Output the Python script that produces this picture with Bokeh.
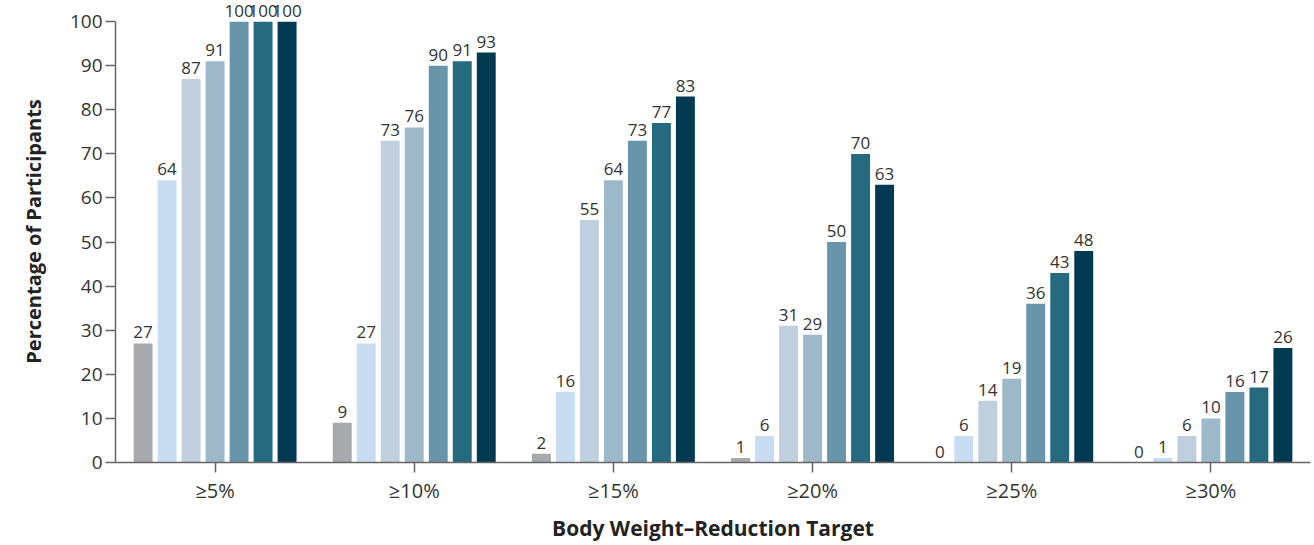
from bokeh.plotting import figure
from bokeh.models import ColumnDataSource, FactorRange, Range1d, FixedTicker
from bokeh.transform import dodge
from bokeh.embed import file_html
from bokeh.resources import INLINE
from bokeh.core.properties import value

targets = ["≥5%", "≥10%", "≥15%", "≥20%", "≥25%", "≥30%"]
s1 = [27, 9, 2, 1, 0, 0]
s2 = [64, 27, 16, 6, 6, 1]
s3 = [87, 73, 55, 31, 14, 6]
s4 = [91, 76, 64, 29, 19, 10]
s5 = [100, 90, 73, 50, 36, 16]
s6 = [100, 91, 77, 70, 43, 17]
s7 = [100, 93, 83, 63, 48, 26]
series = [s1, s2, s3, s4, s5, s6, s7]
colors = ["#a7a9ac", "#c8ddf1", "#c0cfdd", "#9cb8c9", "#6995aa", "#266a80", "#023a52"]
y_ticks = [0, 10, 20, 30, 40, 50, 60, 70, 80, 90, 100]

FONT = "Open Sans"
W, H = 1314, 545

p = figure(x_range=FactorRange(*targets), y_range=Range1d(0, 104.8),
           width=W, height=H, output_backend="svg", toolbar_location=None,
           min_border_left=115, min_border_right=4, min_border_top=0, min_border_bottom=83)
p.outline_line_color = None
p.xgrid.grid_line_color = None
p.ygrid.grid_line_color = None
p.background_fill_color = "white"

pitch = 0.1205
bw = 0.095
for i, (vals, c) in enumerate(zip(series, colors)):
    off = (i - 3) * pitch
    src = ColumnDataSource(dict(cat=targets, val=vals, lab=[str(v) for v in vals]))
    p.vbar(x=dodge("cat", off, range=p.x_range), top="val", width=bw, source=src,
           fill_color=c, line_color=None)
    p.text(x=dodge("cat", off, range=p.x_range), y="val", text="lab", source=src,
           text_align="center", text_baseline="bottom", y_offset=-5,
           text_font=value(FONT), text_font_size="17px", text_color="#333333")

ax = p.yaxis[0]
ax.ticker = FixedTicker(ticks=y_ticks)
ax.bounds = (0, 100)
ax.axis_line_color = "#666666"
ax.axis_line_width = 1.5
ax.major_tick_line_color = "#666666"
ax.major_tick_line_width = 1.5
ax.major_tick_out = 10
ax.major_tick_in = 0
ax.minor_tick_line_color = None
ax.major_label_text_font = FONT
ax.major_label_text_font_size = "19px"
ax.major_label_text_color = "#333333"
ax.major_label_standoff = 3
ax.axis_label = "Percentage of Participants"
ax.axis_label_text_font = FONT
ax.axis_label_text_font_style = "bold"
ax.axis_label_text_font_size = "20px"
ax.axis_label_text_color = "#222222"
ax.axis_label_standoff = 20

xa = p.xaxis[0]
xa.axis_line_color = "#666666"
xa.axis_line_width = 1.5
xa.major_tick_line_color = "#666666"
xa.major_tick_line_width = 1.5
xa.major_tick_out = 10
xa.major_tick_in = 0
xa.minor_tick_line_color = None
xa.major_label_text_font = FONT
xa.major_label_text_font_size = "20px"
xa.major_label_text_color = "#333333"
xa.major_label_standoff = 4
xa.axis_label = "Body Weight–Reduction Target"
xa.axis_label_text_font = FONT
xa.axis_label_text_font_style = "bold"
xa.axis_label_text_font_size = "21px"
xa.axis_label_text_color = "#222222"
xa.axis_label_standoff = 7

open("out.html", "w").write(file_html(p, INLINE))
